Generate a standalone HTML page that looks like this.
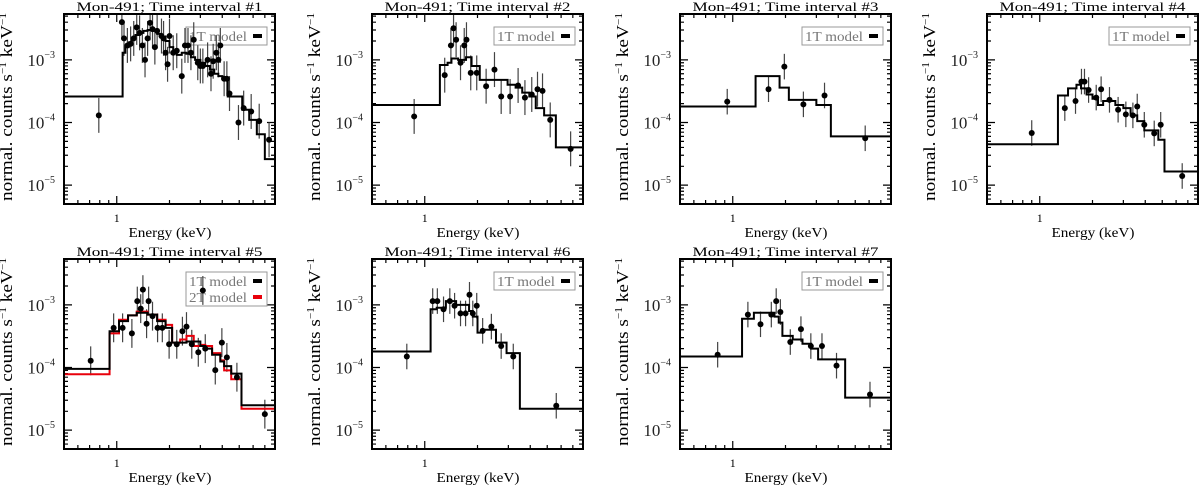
<!DOCTYPE html>
<html><head><meta charset="utf-8">
<style>
html,body{margin:0;padding:0;background:#fff;}
svg{display:block;}
text{font-family:"Liberation Serif",serif;}
</style></head>
<body>
<svg id="fig" width="1200" height="489" viewBox="0 0 1200 489" xmlns="http://www.w3.org/2000/svg"></svg>
<script>
// ---------- data ----------
const panelTitles = ["Mon-491; Time interval #1","Mon-491; Time interval #2","Mon-491; Time interval #3","Mon-491; Time interval #4","Mon-491; Time interval #5","Mon-491; Time interval #6","Mon-491; Time interval #7"];
const yTicks = [-5,-4,-3];
const yTickLabels = ["10","10","10"];
const xRange = [0.5, 8];
const yRange = [5e-6, 5.4e-3];

// panel 1
const p1E = [0.79,1.07,1.1,1.15,1.2,1.25,1.3,1.35,1.4,1.45,1.5,1.55,1.6,1.65,1.7,1.8,1.85,1.9,1.95,2.0,2.1,2.2,2.35,2.45,2.55,2.65,2.75,2.9,3.0,3.1,3.3,3.45,3.55,3.7,3.8,3.9,4.1,4.25,4.4,4.95,5.3,5.85,6.5,7.4];
const p1V = [1.3e-4,4e-3,2.2e-3,1.7e-3,1.8e-3,2.2e-3,3.3e-3,2.7e-3,1.7e-3,1e-3,2.2e-3,3.9e-3,3.1e-3,1.6e-3,2.9e-3,2.4e-3,2.2e-3,1.3e-3,8.5e-4,2.4e-3,1.3e-3,1.4e-3,5.5e-4,1.7e-3,1.7e-3,1.3e-3,2.1e-3,9e-4,8e-4,8e-4,1e-3,6e-4,9.5e-4,1.3e-3,1e-3,1.7e-3,5e-4,5e-4,2.9e-4,1e-4,1.7e-4,1.5e-4,1.05e-4,5.3e-5];
const p1ModelEdges = [0.5,1.08,1.12,1.17,1.22,1.28,1.35,1.42,1.5,1.6,1.7,1.8,1.9,2.0,2.1,2.2,2.35,2.5,2.65,2.8,3.0,3.2,3.4,3.6,3.8,4.0,4.3,5.2,5.7,6.3,7.0,8];
const p1ModelV = [2.6e-4,1.3e-3,1.6e-3,1.9e-3,2.2e-3,2.5e-3,2.7e-3,2.9e-3,3.0e-3,2.9e-3,2.6e-3,2.3e-3,2.0e-3,1.6e-3,1.3e-3,1.2e-3,1.3e-3,1.25e-3,1.1e-3,1.0e-3,9e-4,8e-4,7e-4,6e-4,5.5e-4,5e-4,2.6e-4,1.6e-4,1.1e-4,6.5e-5,2.6e-5];

// panel 2
const p2E = [0.87,1.3,1.41,1.46,1.51,1.6,1.68,1.73,1.83,1.98,2.24,2.5,2.73,3.07,3.41,3.73,4.08,4.4,4.7,5.2,6.8];
const p2V = [1.25e-4,5.7e-4,1.7e-3,3.2e-3,2.1e-3,9e-4,1.7e-3,2.1e-3,6.2e-4,6.2e-4,3.8e-4,7e-4,2.6e-4,2.6e-4,3.9e-4,2.5e-4,2.8e-4,3.4e-4,3.2e-4,1.1e-4,3.8e-5];
const p2ModelEdges = [0.5,1.22,1.35,1.42,1.55,1.72,1.85,2.06,2.6,2.97,3.3,3.6,3.95,4.3,4.8,5.6,8];
const p2ModelV = [1.9e-4,8.3e-4,9e-4,1.05e-3,1e-3,1.1e-3,8e-4,4.8e-4,4.8e-4,4e-4,3.6e-4,3e-4,2.6e-4,1.7e-4,1.3e-4,4e-5];

// panel 3
const p3E = [0.93,1.6,1.97,2.53,3.34,5.7];
const p3V = [2.15e-4,3.4e-4,7.8e-4,1.95e-4,2.7e-4,5.6e-5];
const p3ModelEdges = [0.5,1.35,1.85,2.09,3.0,3.63,8];
const p3ModelV = [1.8e-4,5.5e-4,3.6e-4,2.3e-4,1.9e-4,6e-5];

// panel 4
const p4E = [0.9,1.39,1.6,1.73,1.8,1.9,2.1,2.24,2.5,2.8,3.1,3.4,3.6,3.95,4.5,4.9,6.5];
const p4V = [6.8e-5,1.7e-4,2.2e-4,4.5e-4,4.5e-4,3.3e-4,2.5e-4,3.4e-4,2.3e-4,1.6e-4,1.35e-4,1.3e-4,1.8e-4,9.2e-5,6.7e-5,9.2e-5,1.4e-5];
const p4ModelEdges = [0.5,1.27,1.45,1.62,1.72,1.85,2.0,2.15,2.3,2.7,3.0,3.3,3.6,3.95,4.4,4.75,5.15,8];
const p4ModelV = [4.5e-5,2.7e-4,3.5e-4,4e-4,3.5e-4,2.8e-4,2.4e-4,1.9e-4,2.2e-4,1.9e-4,1.7e-4,1.3e-4,1.05e-4,7.5e-5,7.5e-5,5.3e-5,1.65e-5];

// panel 5
const p5E = [0.71,0.96,1.08,1.22,1.31,1.37,1.41,1.48,1.52,1.6,1.71,1.82,1.99,2.2,2.37,2.5,2.68,2.92,3.1,3.2,3.65,3.98,4.25,4.85,7.0];
const p5V = [1.28e-4,4.3e-4,4.3e-4,3.5e-4,1.15e-3,8.7e-4,1.75e-3,5e-4,1.15e-3,6.6e-4,4.3e-4,4.3e-4,2.35e-4,2.35e-4,3.8e-4,4.5e-4,2.35e-4,1.75e-4,1.7e-3,2e-4,9.1e-5,2.5e-4,1.45e-4,7e-5,1.8e-5];
const p5ModelEdges = [0.5,0.91,1.03,1.16,1.3,1.5,1.7,1.9,2.07,2.3,2.5,2.75,3.0,3.2,3.5,3.9,4.1,4.5,5.15,8];
const p5Model1T = [9.5e-5,3.8e-4,5.5e-4,6.8e-4,7.5e-4,7e-4,5.5e-4,4.3e-4,2.5e-4,2.5e-4,2.6e-4,2.6e-4,2.2e-4,2e-4,1.6e-4,1.25e-4,1.05e-4,8e-5,2.5e-5];
const p5Model2T = [7.8e-5,3.5e-4,5.8e-4,6.8e-4,7.8e-4,7e-4,5.8e-4,4.8e-4,2.5e-4,2.8e-4,3.2e-4,2.2e-4,2.3e-4,2.2e-4,1.7e-4,1.3e-4,9e-5,6.5e-5,2.2e-5];

// panel 6
const p6E = [0.79,1.11,1.18,1.28,1.39,1.48,1.6,1.71,1.8,1.88,1.98,2.14,2.4,2.73,3.2,5.63];
const p6V = [1.5e-4,1.15e-3,1.15e-3,8.5e-4,1.15e-3,9.7e-4,7.3e-4,7.3e-4,1.45e-3,7.3e-4,9.7e-4,3.85e-4,4.5e-4,2.2e-4,1.5e-4,2.45e-5];
const p6ModelEdges = [0.5,1.08,1.17,1.32,1.51,1.79,1.88,2.0,2.15,2.55,2.93,3.49,8];
const p6ModelV = [1.8e-4,8.5e-4,9e-4,1.15e-3,1e-3,8e-4,6.5e-4,3.6e-4,4e-4,2.5e-4,1.7e-4,2.2e-5];

// panel 7
const p7E = [0.82,1.22,1.44,1.66,1.77,1.87,2.13,2.45,2.79,3.23,3.91,6.07];
const p7V = [1.6e-4,7e-4,4.9e-4,7e-4,1.15e-3,7.7e-4,2.55e-4,4.1e-4,2.2e-4,2.2e-4,1.07e-4,3.7e-5];
const p7ModelEdges = [0.5,1.13,1.32,1.73,1.83,1.92,2.2,2.5,2.8,3.07,4.38,8];
const p7ModelV = [1.5e-4,6e-4,7.5e-4,6.5e-4,5.2e-4,3.2e-4,2.8e-4,2.4e-4,2e-4,1.35e-4,3.3e-5];

// error bar factors (multiplicative half-widths) per panel
const errFactors = [1.9, 1.9, 1.6, 1.6, 1.7, 1.6, 1.6];

// ---------- drawing ----------
const NS = "http://www.w3.org/2000/svg";
const svg = document.getElementById("fig");
const W = 211, H = 190;
const frames = [[64,14],[372,14],[680,14],[987,14],[64,259],[372,259],[680,259]];
const datasets = [
  {E:p1E,V:p1V,models:[{edges:p1ModelEdges,v:p1ModelV,c:"#000",n:"1T"}]},
  {E:p2E,V:p2V,models:[{edges:p2ModelEdges,v:p2ModelV,c:"#000",n:"1T"}]},
  {E:p3E,V:p3V,models:[{edges:p3ModelEdges,v:p3ModelV,c:"#000",n:"1T"}]},
  {E:p4E,V:p4V,models:[{edges:p4ModelEdges,v:p4ModelV,c:"#000",n:"1T"}]},
  {E:p5E,V:p5V,models:[{edges:p5ModelEdges,v:p5Model2T,c:"#e8000b",n:"2T"},{edges:p5ModelEdges,v:p5Model1T,c:"#000",n:"1T"}]},
  {E:p6E,V:p6V,models:[{edges:p6ModelEdges,v:p6ModelV,c:"#000",n:"1T"}]},
  {E:p7E,V:p7V,models:[{edges:p7ModelEdges,v:p7ModelV,c:"#000",n:"1T"}]}
];
function el(tag, attrs, parent){
  const e = document.createElementNS(NS, tag);
  for (const k in attrs) e.setAttribute(k, attrs[k]);
  (parent||svg).appendChild(e);
  return e;
}
function makeX(L){ const a=Math.log10(xRange[0]), b=Math.log10(xRange[1]); return E => L + (Math.log10(E)-a)/(b-a)*W; }
function makeY(T){ const a=Math.log10(yRange[0]), b=Math.log10(yRange[1]); return v => T + (b-Math.log10(v))/(b-a)*H; }

datasets.forEach((d, i) => {
  const [L, T] = frames[i];
  const X = makeX(L), Y = makeY(T);
  const g = el("g", {});
  
  
  const clipId = "clip"+i;
  const cp = el("clipPath", {id: clipId}, g);
  el("rect", {x:L, y:T, width:W, height:H}, cp);

  // title
  const t = el("text", {x:L+W/2-93, y:T-3, "font-size":"12.5", textLength:"186", lengthAdjust:"spacingAndGlyphs"}, g);
  t.textContent = panelTitles[i];
  
  

  // y label
  const yl = el("text", {x:-94, y:0, "font-size":"17", textLength:"188", lengthAdjust:"spacingAndGlyphs", transform:`translate(${L-52},${T+H/2-2}) rotate(-90)`}, g);
  yl.innerHTML = 'normal. counts s<tspan dy="-6" font-size="10">−1</tspan><tspan dy="6"> keV</tspan><tspan dy="-6" font-size="10">−1</tspan>';
  
  

  // x label
  const xl = el("text", {x:L+W/2-41, y:T+H+33, "font-size":"14", textLength:"83", lengthAdjust:"spacingAndGlyphs"}, g);
  xl.textContent = "Energy (keV)";
  
  

  // x tick label
  const x1 = el("text", {x:X(1), y:T+H+18, "text-anchor":"middle", "font-size":"12"}, g);
  x1.textContent = "1";
  
  

  // y ticks & labels
  yTicks.forEach((p, k) => {
    const yy = Y(Math.pow(10,p));
    const lb = el("text", {x:L-9, y:yy+6, "text-anchor":"end", "font-size":"17", fill:"#222"}, g);
    lb.innerHTML = yTickLabels[k] + '<tspan dy="-8" font-size="10">−' + (-p) + '</tspan>';
    
    
  });
  let tk = "";
  for (let p=-6; p<=-2; p++) for (let m=1; m<10; m++){
    const v = m*Math.pow(10,p);
    if (v < yRange[0] || v > yRange[1]) continue;
    const yy = Y(v), len = m===1?8:4;
    tk += `M${L},${yy}h${len}M${L+W},${yy}h${-len}`;
  }
  [0.6,0.7,0.8,0.9,1,2,3,4,5,6,7].forEach(E => {
    const xx = X(E), len = E===1?8:4;
    tk += `M${xx},${T+H}v${-len}M${xx},${T}v${len}`;
  });
  const ticks = el("path", {d:tk, stroke:"#000", "stroke-width":1.2, fill:"none"}, g);
  
  

  // legend
  const names = d.models.length===2 ? [["1T model","#000"],["2T model","#e8000b"]] : [["1T model","#000"]];
  const lg = el("g", {}, g);
  
  
  el("rect", {x:L+W-89, y:T+13, width:81, height:names.length*16+2, fill:"none", stroke:"#999", "stroke-width":1}, lg);
  names.forEach((n, k) => {
    const lt = el("text", {x:L+W-86, y:T+27+k*16, "font-size":"14", fill:"#777", textLength:"58", lengthAdjust:"spacingAndGlyphs"}, lg);
    lt.textContent = n[0];
    
    
    el("rect", {x:L+W-22, y:T+20+k*16, width:9, height:4, fill:n[1]}, lg);
  });

  const inner = el("g", {"clip-path":`url(#${clipId})`}, g);

  // error bars
  const f = errFactors[i];
  d.E.forEach((E, k) => {
    const v = d.V[k];
    const eb = el("line", {x1:X(E), x2:X(E), y1:Y(v*f), y2:Y(v/f), stroke:"#444", "stroke-width":1.2}, inner);
    
    
  });
  // models
  d.models.forEach(m => {
    let pth = "";
    m.v.forEach((v, k) => {
      const x0 = X(m.edges[k]), x1 = X(m.edges[k+1]), y = Y(v);
      pth += (k===0 ? `M${x0},${y}` : `L${x0},${y}`) + `L${x1},${y}`;
    });
    const mp = el("path", {d:pth, stroke:m.c, "stroke-width":2, fill:"none"}, inner);
    
    
  });
  // points
  d.E.forEach((E, k) => {
    const pt = el("circle", {cx:X(E), cy:Y(d.V[k]), r:3, fill:"#000"}, inner);
    
    
  });

  // frame
  const fr = el("rect", {x:L, y:T, width:W, height:H, fill:"none", stroke:"#000", "stroke-width":2}, g);
  
  
});
</script>
</body></html>
